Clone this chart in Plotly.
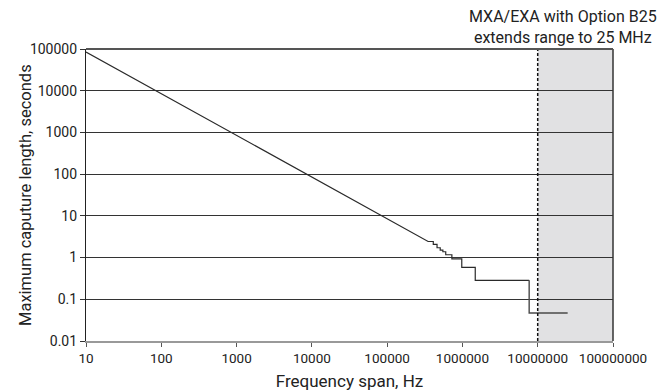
import plotly.graph_objects as go

# Main curve: maximum capture length vs frequency span
span_hz = [10, 3.5e5, 4.1e5, 4.1e5, 4.6e5, 4.6e5, 5.07e5, 5.07e5, 5.5e5, 5.5e5,
           6.0e5, 6.0e5, 7.24e5, 7.24e5, 9.8e5, 9.8e5, 1.48e6, 1.48e6, 7.7e6]
capture_s = [85000, 2.43, 2.43, 2.07, 2.07, 1.72, 1.72, 1.51, 1.51, 1.38,
             1.38, 1.17, 1.17, 0.93, 0.93, 0.58, 0.58, 0.285, 0.285]

# Option B25 extension segment
ext_span_hz = [7.7e6, 7.7e6, 2.5e7]
ext_capture_s = [0.285, 0.047, 0.047]

# Option region
region_start_hz = 1e7
region_end_hz = 1e8

x_tickvals = [10, 100, 1000, 10000, 100000, 1000000, 10000000, 100000000]
x_ticktext = ["10", "100", "1000", "10000", "100000", "1000000", "10000000", "100000000"]
y_tickvals = [0.01, 0.1, 1, 10, 100, 1000, 10000, 100000]
y_ticktext = ["0.01", "0.1", "1", "10", "100", "1000", "10000", "100000"]

FONT = "Roboto, sans-serif"

fig = go.Figure()
fig.add_trace(go.Scatter(x=span_hz, y=capture_s, mode="lines",
                         line=dict(color="#2a2a2a", width=1.2), showlegend=False))
fig.add_trace(go.Scatter(x=ext_span_hz, y=ext_capture_s, mode="lines",
                         line=dict(color="#4a4a4a", width=1.4), showlegend=False))

fig.add_shape(type="rect", xref="x", yref="paper", x0=region_start_hz, x1=region_end_hz,
              y0=0, y1=1, fillcolor="#e1e1e3", line=dict(width=0), layer="below")
fig.add_shape(type="line", xref="x", yref="paper", x0=region_start_hz, x1=region_start_hz,
              y0=0, y1=1, line=dict(color="#111", width=1.5, dash="3px,2px"))
fig.add_shape(type="line", xref="paper", yref="paper", x0=1, x1=1, y0=0, y1=1,
              line=dict(color="#333", width=1.5))
fig.add_shape(type="line", xref="paper", yref="paper", x0=0, x1=1, y0=1, y1=1,
              line=dict(color="#555", width=2))

fig.add_annotation(text="MXA/EXA with Option B25<br>extends range to 25 MHz",
                   xref="paper", yref="paper", x=0.906, y=1.0, xanchor="center", yanchor="bottom",
                   yshift=0, showarrow=False, align="center",
                   font=dict(family=FONT, size=16, color="#222"))

# Y axis title placed as rotated text
fig.add_annotation(text="Maximum caputure length, seconds",
                   xref="paper", yref="paper", x=0, y=0.5, xanchor="center", yanchor="middle",
                   xshift=-61, textangle=-90, showarrow=False,
                   font=dict(family=FONT, size=16.5, color="#222"))

fig.update_layout(
    width=663, height=392,
    margin=dict(l=86, r=50, t=49, b=51),
    paper_bgcolor="white", plot_bgcolor="white",
    font=dict(family=FONT, size=14, color="#222"),
    xaxis=dict(type="log", range=[1, 8], tickvals=x_tickvals, ticktext=x_ticktext,
               showgrid=False, zeroline=False, showline=True, linecolor="#999", linewidth=1.5,
               ticks="outside", ticklen=4, tickcolor="#555", automargin=False,
               tickfont=dict(family=FONT, size=13.5),
               title=dict(text="Frequency span, Hz", font=dict(family=FONT, size=17), standoff=10)),
    yaxis=dict(type="log", range=[-2, 5], tickvals=y_tickvals, ticktext=y_ticktext,
               showgrid=True, gridcolor="#333", gridwidth=1, zeroline=False,
               showline=True, linecolor="#222", linewidth=1.2, automargin=False,
               ticks="outside", ticklen=5, tickcolor="#333",
               tickfont=dict(family=FONT, size=14)),
)

fig.write_html("out.html")
